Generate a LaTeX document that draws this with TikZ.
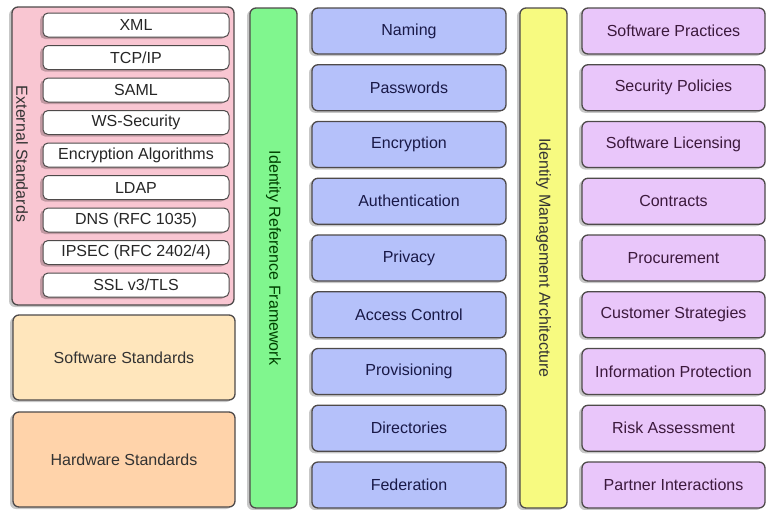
\documentclass[tikz,border=0pt]{standalone}
\usepackage{fontspec}
\setmainfont{Liberation Sans}
\usetikzlibrary{shadows}

\definecolor{extpink}{RGB}{249,198,210}
\definecolor{swpeach}{RGB}{255,230,188}
\definecolor{hworange}{RGB}{255,211,170}
\definecolor{refgreen}{RGB}{128,246,142}
\definecolor{topicblue}{RGB}{181,193,250}
\definecolor{archyellow}{RGB}{247,250,128}
\definecolor{practpurple}{RGB}{233,198,250}
\definecolor{edgegray}{RGB}{78,74,74}

\begin{document}
\begin{tikzpicture}[x=1pt,y=-1pt]
    \tikzset{box/.style={draw=edgegray, line width=1.3pt, rounded corners=6pt, inner sep=0pt,
        font=\fontsize{16}{19}\selectfont,
        drop shadow={shadow xshift=-3pt, shadow yshift=-2pt, fill=black, opacity=0.22}},
        stdbox/.style={box, fill=white, minimum width=186, minimum height=24, rounded corners=5pt, line width=1pt, text=black!85},
        topicbox/.style={box, fill=topicblue, minimum width=194, minimum height=46, text=blue!20!black!90},
        practbox/.style={box, fill=practpurple, minimum width=183, minimum height=46, text=violet!30!black!90},
        barbox/.style={box, minimum width=47, minimum height=500},
        sidetext/.style={rotate=-90, font=\fontsize{16}{19}\selectfont}}

    \useasboundingbox (0,0) rectangle (767,509);

    \coordinate (ext_center) at (123,156);
    \coordinate (ref_center) at (273.5,258);
    \coordinate (arch_center) at (543.5,258);

    %External standards
    \node[box, fill=extpink, minimum width=222, minimum height=298] (ext) at (ext_center) {};
    \node[sidetext, text=black!80] (ext_label) at (22,154) {External Standards};
    \node[stdbox] (xml) at (136,25) {XML};
    \node[stdbox] (tcpip) at (136,57.5) {TCP/IP};
    \node[stdbox] (saml) at (136,90) {SAML};
    \node[stdbox] (wssec) at (136,122.5) {WS-Security};
    \node[stdbox] (encalg) at (136,155) {Encryption Algorithms};
    \node[stdbox] (ldap) at (136,187.5) {LDAP};
    \node[stdbox] (dns) at (136,220) {DNS (RFC 1035)};
    \node[stdbox] (ipsec) at (136,252.5) {IPSEC (RFC 2402/4)};
    \node[stdbox] (ssl) at (136,285) {SSL v3/TLS};

    %Software and hardware
    \node[box, fill=swpeach, minimum width=222, minimum height=85, text=black!80] (software) at (124,357.5) {Software Standards};
    \node[box, fill=hworange, minimum width=222, minimum height=95, text=black!80] (hardware) at (124,459.5) {Hardware Standards};

    %Reference framework
    \node[barbox, fill=refgreen] (ref) at (ref_center) {};
    \node[sidetext, text=green!25!black] (ref_label) at (ref_center) {Identity Reference Framework};

    \node[topicbox] (naming) at (409,31) {Naming};
    \node[topicbox] (passwords) at (409,87.75) {Passwords};
    \node[topicbox] (encryption) at (409,144.5) {Encryption};
    \node[topicbox] (authentication) at (409,201.25) {Authentication};
    \node[topicbox] (privacy) at (409,258) {Privacy};
    \node[topicbox] (access) at (409,314.75) {Access Control};
    \node[topicbox] (provisioning) at (409,371.5) {Provisioning};
    \node[topicbox] (directories) at (409,428.25) {Directories};
    \node[topicbox] (federation) at (409,485) {Federation};

    %Management architecture
    \node[barbox, fill=archyellow] (arch) at (arch_center) {};
    \node[sidetext, text=black!80] (arch_label) at (arch_center) {Identity Management Architecture};

    \node[practbox] (swpractices) at (673.5,31) {Software Practices};
    \node[practbox] (secpolicies) at (673.5,87.75) {Security Policies};
    \node[practbox] (licensing) at (673.5,144.5) {Software Licensing};
    \node[practbox] (contracts) at (673.5,201.25) {Contracts};
    \node[practbox] (procurement) at (673.5,258) {Procurement};
    \node[practbox] (customer) at (673.5,314.75) {Customer Strategies};
    \node[practbox] (infoprot) at (673.5,371.5) {Information Protection};
    \node[practbox] (risk) at (673.5,428.25) {Risk Assessment};
    \node[practbox] (partner) at (673.5,485) {Partner Interactions};
\end{tikzpicture}
\end{document}
